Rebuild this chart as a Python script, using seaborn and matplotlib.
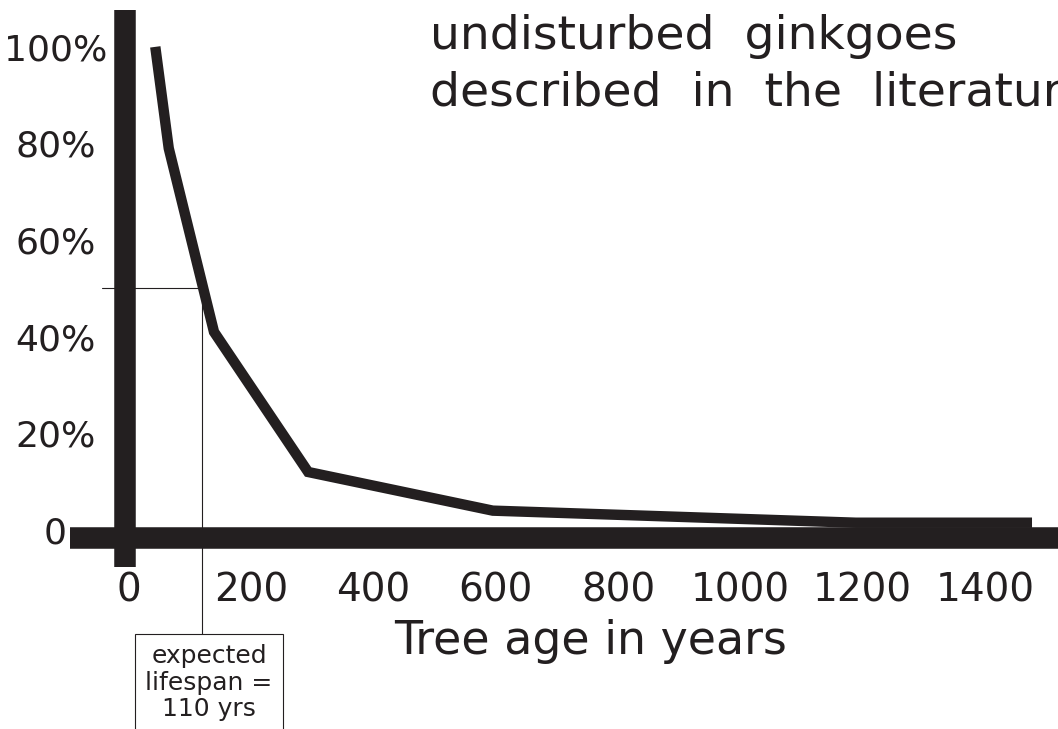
import matplotlib
matplotlib.use("Agg")
import matplotlib.pyplot as plt
import seaborn as sns
import pandas as pd

# survival of undisturbed ginkgoes vs tree age
ages = [43, 65, 139, 293, 595, 1189, 1477]
survival = [100, 79, 41, 12, 4, 1.5, 1.5]

x_ticks = [0, 200, 400, 600, 800, 1000, 1200, 1400]
x_tick_labels = ["0", "200", "400", "600", "800", "1000", "1200", "1400"]
y_ticks = [0, 20, 40, 60, 80, 100]
y_tick_labels = ["0", "20%", "40%", "60%", "80%", "100%"]

# expected lifespan marker (50% survival)
lifespan_age = 119
half_survival = 50
lifespan_text = "expected\nlifespan =\n110 yrs"

title_lines = ["undisturbed  ginkgoes", "described  in  the  literature"]
x_label = "Tree age in years"

ink = "#231f20"

sns.set_style("white")
plt.rcParams["font.family"] = ["DejaVu Sans"]

df = pd.DataFrame({"age": ages, "survival": survival})

fig = plt.figure(figsize=(10.58, 7.29), dpi=100)
fig.patch.set_facecolor("white")
ax = fig.add_axes([0, 0, 1, 1])

sns.lineplot(data=df, x="age", y="survival", ax=ax, color=ink, linewidth=7.5,
             estimator=None, sort=False, solid_joinstyle="miter", solid_capstyle="butt")

ax.set_xlim(-211, 1519.5)
ax.set_ylim(-41.2, 109.7)

# thick axis bars
for side in ["top", "right"]:
    ax.spines[side].set_visible(False)
ax.spines["left"].set_position(("data", -6.5))
ax.spines["left"].set_bounds(-7.7, 107.7)
ax.spines["bottom"].set_position(("data", -1.76))
ax.spines["bottom"].set_bounds(-96.5, 1519.5)
for side in ["left", "bottom"]:
    ax.spines[side].set_linewidth(15.5)
    ax.spines[side].set_color(ink)
    ax.spines[side].set_capstyle("butt")

ax.set_xticks(x_ticks)
ax.set_xticklabels(x_tick_labels)
ax.set_yticks(y_ticks)
ax.set_yticklabels(y_tick_labels)
ax.tick_params(axis="x", length=0, pad=24, labelsize=28, labelcolor=ink)
ax.tick_params(axis="y", length=0, pad=50, labelsize=26, labelcolor=ink)
plt.setp(ax.get_yticklabels(), ha="center")

ax.set_xlabel(x_label, fontsize=33, color=ink, va="center")
ax.xaxis.set_label_coords(591 / 1058, 1 - 641 / 729)
ax.set_ylabel("")

# expected lifespan guide lines and box
ax.plot([-44, lifespan_age], [half_survival, half_survival], color=ink, lw=0.8)
ax.plot([lifespan_age, lifespan_age], [half_survival, -22.2], color=ink, lw=0.8)
ax.text(131, -31.6, lifespan_text, ha="center", va="center", fontsize=18,
        color=ink, linespacing=1.12,
        bbox=dict(boxstyle="square,pad=0.4", fc="white", ec=ink, lw=0.8))

# title (top line runs off the canvas in the original)
ax.text(430 / 1058, 1 - 49 / 729, title_lines[0], transform=ax.transAxes,
        ha="left", va="baseline", fontsize=34, color=ink)
ax.text(430 / 1058, 1 - 106 / 729, title_lines[1], transform=ax.transAxes,
        ha="left", va="baseline", fontsize=34, color=ink)

plt.savefig("out.png", dpi=100, facecolor="white")
plt.close()
